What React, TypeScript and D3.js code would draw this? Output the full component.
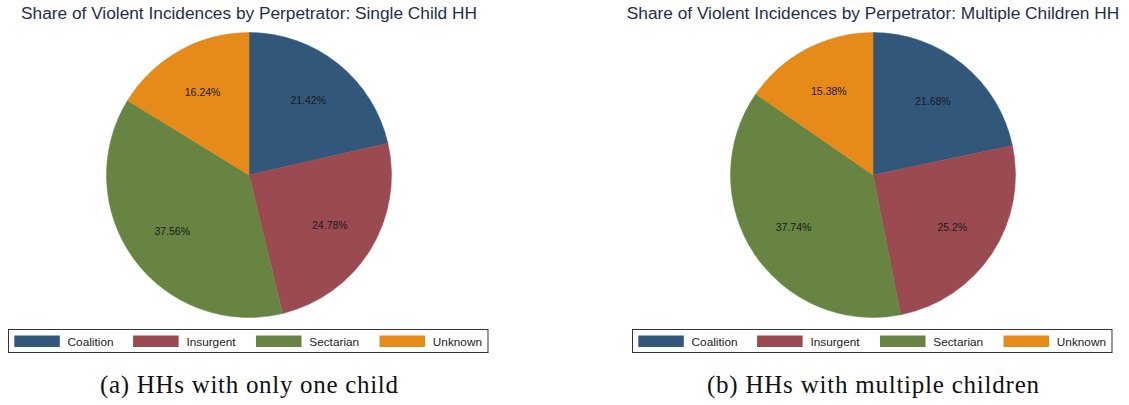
import React, { useEffect } from "react";
import * as d3 from "d3";

const categories = ["Coalition", "Insurgent", "Sectarian", "Unknown"];
const colors = ["#31587a", "#9a4a50", "#678442", "#e68a1a"];
const singleValues = [21.42, 24.78, 37.56, 16.24];
const multipleValues = [21.68, 25.2, 37.74, 15.38];
const titles = [
  "Share of Violent Incidences by Perpetrator: Single Child HH",
  "Share of Violent Incidences by Perpetrator: Multiple Children HH",
];
const captions = ["(a) HHs with only one child", "(b) HHs with multiple children"];

const W = 1129;
const H = 405;
const legendOffsets = [5.8, 124.6, 247.5, 371];

type PanelProps = {
  cx: number;
  values: number[];
  title: string;
  caption: string;
  captionWidth: number;
  legendX0: number;
  legendX1: number;
};

function Panel({ cx, values, title, caption, captionWidth, legendX0, legendX1 }: PanelProps) {
  const cy = 175;
  const R = 142.5;
  const pie = d3
    .pie<number>()
    .sort(null)
    .value((d) => d);
  const arcs = pie(values);
  const arc = d3.arc<d3.PieArcDatum<number>>().innerRadius(0).outerRadius(R);
  const labelArc = d3
    .arc<d3.PieArcDatum<number>>()
    .innerRadius(R * 0.667)
    .outerRadius(R * 0.667);
  const legendY0 = 329.5;
  const legendY1 = 352.5;
  return (
    <g>
      <text
        x={cx}
        y={19}
        textAnchor="middle"
        fontFamily="'Liberation Sans', Arial, sans-serif"
        fontSize={17.3}
        fill="#1e2f4c"
      >
        {title}
      </text>
      <g transform={`translate(${cx},${cy})`}>
        {arcs.map((a, i) => (
          <path key={i} d={arc(a) || ""} fill={colors[i]} stroke={colors[i]} strokeWidth={0.5} />
        ))}
        {arcs.map((a, i) => {
          const [x, y] = labelArc.centroid(a);
          return (
            <text
              key={"l" + i}
              x={x}
              y={y + 3.8}
              textAnchor="middle"
              fontFamily="'Liberation Sans', Arial, sans-serif"
              fontSize={10.5}
              fill="#1a1a1a"
            >
              {`${values[i]}%`}
            </text>
          );
        })}
      </g>
      <rect
        x={legendX0}
        y={legendY0}
        width={legendX1 - legendX0}
        height={legendY1 - legendY0}
        fill="#ffffff"
        stroke="#333333"
        strokeWidth={1}
      />
      {categories.map((c, i) => {
        const x = legendX0 + legendOffsets[i];
        return (
          <g key={c}>
            <rect x={x} y={335.5} width={45.5} height={11.5} fill={colors[i]} />
            <text
              x={x + 53.3}
              y={346}
              fontFamily="'Liberation Sans', Arial, sans-serif"
              fontSize={11.8}
              fill="#222222"
            >
              {c}
            </text>
          </g>
        );
      })}
      <text
        x={cx}
        y={392.5}
        textAnchor="middle"
        fontFamily="'Liberation Serif', 'Times New Roman', serif"
        fontSize={25}
        fill="#111111"
        textLength={captionWidth}
        lengthAdjust="spacing"
      >
        {caption}
      </text>
    </g>
  );
}

export default function App() {
  useEffect(() => {
    document.body.style.margin = "0";
  }, []);
  return (
    <svg width={W} height={H} viewBox={`0 0 ${W} ${H}`} style={{ display: "block", background: "#ffffff" }}>
      <rect x={0} y={0} width={W} height={H} fill="#ffffff" />
      <Panel
        cx={249}
        values={singleValues}
        title={titles[0]}
        caption={captions[0]}
        captionWidth={298}
        legendX0={8.5}
        legendX1={488}
      />
      <Panel
        cx={873}
        values={multipleValues}
        title={titles[1]}
        caption={captions[1]}
        captionWidth={332}
        legendX0={632.5}
        legendX1={1112}
      />
    </svg>
  );
}
